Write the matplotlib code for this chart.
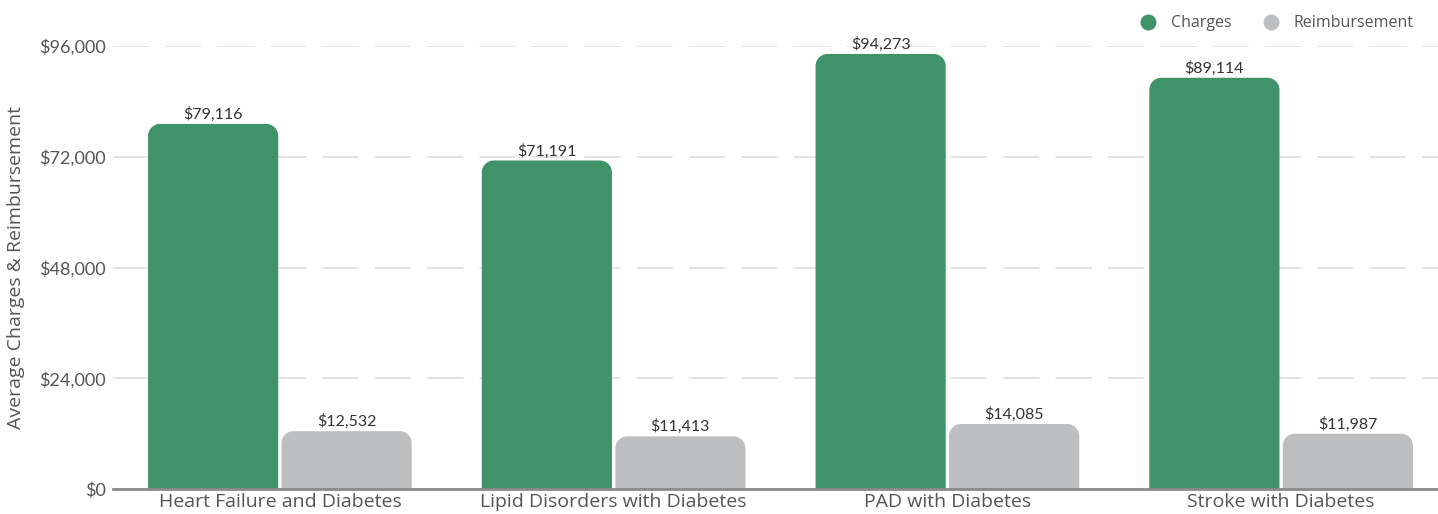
import matplotlib
matplotlib.use("Agg")
import matplotlib.pyplot as plt
import numpy as np
from matplotlib.path import Path
from matplotlib.patches import PathPatch
from matplotlib.lines import Line2D
from matplotlib.ticker import FuncFormatter

# data
categories = ["Heart Failure and Diabetes", "Lipid Disorders with Diabetes",
              "PAD with Diabetes", "Stroke with Diabetes"]
charges = [79116, 71191, 94273, 89114]
reimbursement = [12532, 11413, 14085, 11987]
y_ticks = [0, 24000, 48000, 72000, 96000]

GREEN = "#409369"
GREY = "#bdbebf"
TEXT = "#555555"
WIDE = ["Open Sans", "DejaVu Sans"]

plt.rcParams["font.family"] = ["Lato", "DejaVu Sans"]

W, H, DPI = 1438, 514, 100
fig = plt.figure(figsize=(W / DPI, H / DPI), dpi=DPI)
# axes box in pixels: left 113, right 1438, bottom 489 (from top), top 46
ax = fig.add_axes([113 / W, (H - 489) / H, (1438 - 113) / W, (489 - 46) / H])

ax.set_ylim(0, 96000)
ax.set_xlim(-0.5, 3.47)

# pixel -> data scale for rounded corners
px_x = 3.97 / (1438 - 113)
px_y = 96000 / (489 - 46)
radius = 12


def rounded_bar(ax, xc, width, height, color):
    x0, x1 = xc - width / 2, xc + width / 2
    rx = radius * px_x
    ry = min(radius * px_y, height)
    k = 0.5523
    verts = [
        (x0, 0), (x0, height - ry),
        (x0, height - ry + ry * k), (x0 + rx - rx * k, height), (x0 + rx, height),
        (x1 - rx, height),
        (x1 - rx + rx * k, height), (x1, height - ry + ry * k), (x1, height - ry),
        (x1, 0), (x0, 0),
    ]
    codes = [Path.MOVETO, Path.LINETO,
             Path.CURVE4, Path.CURVE4, Path.CURVE4,
             Path.LINETO,
             Path.CURVE4, Path.CURVE4, Path.CURVE4,
             Path.LINETO, Path.CLOSEPOLY]
    ax.add_patch(PathPatch(Path(verts, codes), facecolor=color,
                           edgecolor="none", zorder=3))


x = np.arange(len(categories))
bw = 0.39
off = 0.2
for i in range(len(categories)):
    rounded_bar(ax, x[i] - off, bw, charges[i], GREEN)
    rounded_bar(ax, x[i] + off, bw, reimbursement[i], GREY)
    ax.annotate(f"${charges[i]:,}", (x[i] - off, charges[i]),
                xytext=(0, 1.5), textcoords="offset points", ha="center",
                va="bottom", fontsize=11.5, color="#333333", annotation_clip=False)
    ax.annotate(f"${reimbursement[i]:,}", (x[i] + off, reimbursement[i]),
                xytext=(0, 1.5), textcoords="offset points", ha="center",
                va="bottom", fontsize=11.5, color="#333333", annotation_clip=False)

ax.set_yticks(y_ticks)
ax.yaxis.set_major_formatter(FuncFormatter(lambda v, p: f"${v:,.0f}"))
ax.set_xticks(x)
ax.set_xticklabels(categories, family=WIDE)
ax.tick_params(axis="y", length=0, pad=5, labelsize=13, labelcolor=TEXT)
ax.tick_params(axis="x", length=0, pad=3, labelsize=14, labelcolor=TEXT)

ax.grid(axis="y", color="#e0e0e0", linewidth=1.3, linestyle=(0, (20, 9)), zorder=0)
for side in ["top", "right", "left"]:
    ax.spines[side].set_visible(False)
ax.spines["bottom"].set_color("#8a8a8a")
ax.spines["bottom"].set_linewidth(2)
ax.spines["bottom"].set_zorder(4)

ax.set_ylabel("Average Charges & Reimbursement", fontsize=14, color=TEXT,
              family=WIDE)
ax.yaxis.set_label_coords(-88 / (1438 - 113), 0.5)

handles = [
    Line2D([], [], marker="o", linestyle="none", markersize=11.5,
           markerfacecolor=GREEN, markeredgecolor="none", label="Charges"),
    Line2D([], [], marker="o", linestyle="none", markersize=11.5,
           markerfacecolor=GREY, markeredgecolor="none", label="Reimbursement"),
]
fig.legend(handles=handles, loc="upper right", bbox_to_anchor=(1420 / W, 1 - 9 / H),
           ncol=2, frameon=False, prop={"family": WIDE, "size": 11.5},
           labelcolor=TEXT, handletextpad=0.4, columnspacing=1.5, borderaxespad=0)

fig.savefig("out.png", dpi=DPI, facecolor="white")
